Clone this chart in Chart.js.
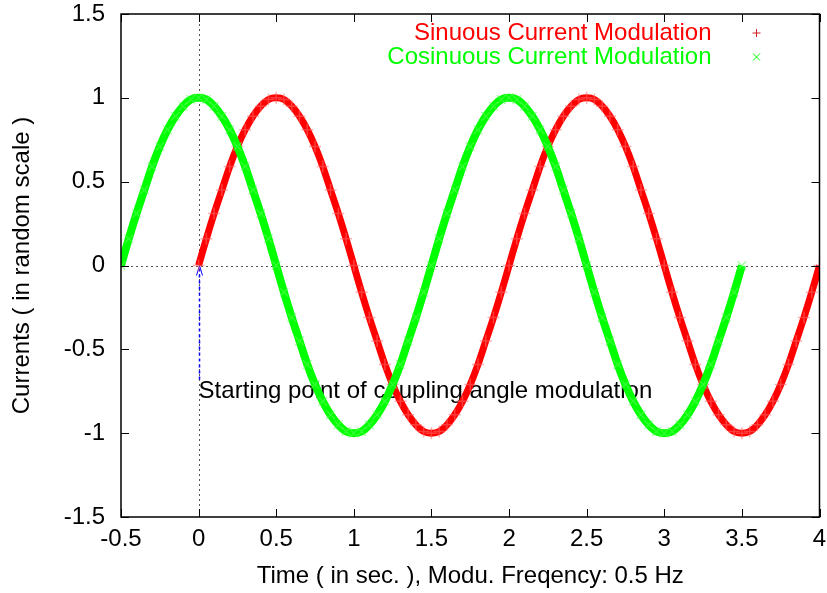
<!DOCTYPE html>
<html lang="en">
<head>
  <meta charset="UTF-8" />
  <title>Current Modulation</title>
  <script src="https://cdn.jsdelivr.net/npm/chart.js"></script>
  <style>
    html, body { margin: 0; padding: 0; background: #fff; }
    canvas { display: block; }
  </style>
</head>
<body>
  <canvas id="grafico" width="827" height="593"></canvas>

  <script>
    const sinTime = [
      0, 0.05, 0.1, 0.15, 0.2, 0.25, 0.3, 0.35, 0.4, 0.45,
      0.5, 0.55, 0.6, 0.65, 0.7, 0.75, 0.8, 0.85, 0.9, 0.95,
      1, 1.05, 1.1, 1.15, 1.2, 1.25, 1.3, 1.35, 1.4, 1.45,
      1.5, 1.55, 1.6, 1.65, 1.7, 1.75, 1.8, 1.85, 1.9, 1.95,
      2, 2.05, 2.1, 2.15, 2.2, 2.25, 2.3, 2.35, 2.4, 2.45,
      2.5, 2.55, 2.6, 2.65, 2.7, 2.75, 2.8, 2.85, 2.9, 2.95,
      3, 3.05, 3.1, 3.15, 3.2, 3.25, 3.3, 3.35, 3.4, 3.45,
      3.5, 3.55, 3.6, 3.65, 3.7, 3.75, 3.8, 3.85, 3.9, 3.95,
      4
    ];
    const sinValues = [
      0, 0.16, 0.31, 0.45, 0.59, 0.71, 0.81, 0.89, 0.95, 0.99,
      1, 0.99, 0.95, 0.89, 0.81, 0.71, 0.59, 0.45, 0.31, 0.16,
      0, -0.16, -0.31, -0.45, -0.59, -0.71, -0.81, -0.89, -0.95, -0.99,
      -1, -0.99, -0.95, -0.89, -0.81, -0.71, -0.59, -0.45, -0.31, -0.16,
      0, 0.16, 0.31, 0.45, 0.59, 0.71, 0.81, 0.89, 0.95, 0.99,
      1, 0.99, 0.95, 0.89, 0.81, 0.71, 0.59, 0.45, 0.31, 0.16,
      0, -0.16, -0.31, -0.45, -0.59, -0.71, -0.81, -0.89, -0.95, -0.99,
      -1, -0.99, -0.95, -0.89, -0.81, -0.71, -0.59, -0.45, -0.31, -0.16,
      0
    ];
    const cosTime = [
      -0.5, -0.45, -0.4, -0.35, -0.3, -0.25, -0.2, -0.15, -0.1, -0.05,
      0, 0.05, 0.1, 0.15, 0.2, 0.25, 0.3, 0.35, 0.4, 0.45,
      0.5, 0.55, 0.6, 0.65, 0.7, 0.75, 0.8, 0.85, 0.9, 0.95,
      1, 1.05, 1.1, 1.15, 1.2, 1.25, 1.3, 1.35, 1.4, 1.45,
      1.5, 1.55, 1.6, 1.65, 1.7, 1.75, 1.8, 1.85, 1.9, 1.95,
      2, 2.05, 2.1, 2.15, 2.2, 2.25, 2.3, 2.35, 2.4, 2.45,
      2.5, 2.55, 2.6, 2.65, 2.7, 2.75, 2.8, 2.85, 2.9, 2.95,
      3, 3.05, 3.1, 3.15, 3.2, 3.25, 3.3, 3.35, 3.4, 3.45,
      3.5
    ];
    const cosValues = [
      0, 0.16, 0.31, 0.45, 0.59, 0.71, 0.81, 0.89, 0.95, 0.99,
      1, 0.99, 0.95, 0.89, 0.81, 0.71, 0.59, 0.45, 0.31, 0.16,
      0, -0.16, -0.31, -0.45, -0.59, -0.71, -0.81, -0.89, -0.95, -0.99,
      -1, -0.99, -0.95, -0.89, -0.81, -0.71, -0.59, -0.45, -0.31, -0.16,
      0, 0.16, 0.31, 0.45, 0.59, 0.71, 0.81, 0.89, 0.95, 0.99,
      1, 0.99, 0.95, 0.89, 0.81, 0.71, 0.59, 0.45, 0.31, 0.16,
      0, -0.16, -0.31, -0.45, -0.59, -0.71, -0.81, -0.89, -0.95, -0.99,
      -1, -0.99, -0.95, -0.89, -0.81, -0.71, -0.59, -0.45, -0.31, -0.16,
      0
    ];
    const xTicks = [-0.5, 0, 0.5, 1, 1.5, 2, 2.5, 3, 3.5, 4];
    const yTicks = [-1.5, -1, -0.5, 0, 0.5, 1, 1.5];

    const startLabel = 'Starting point of coupling angle modulation';
    const startLabelPos = { x: 0, y: -0.75 };
    const arrowFrom = { x: 0, y: -0.68 };
    const arrowTo = { x: 0, y: 0 };

    const fuente = { family: "'Liberation Sans', Arial, sans-serif", size: 24 };

    function puntos(ts, vs) {
      return ts.map((t, i) => ({ x: t, y: vs[i] }));
    }

    function sinPadding(s) {
      s.paddingTop = 0; s.paddingBottom = 0; s.paddingLeft = 0; s.paddingRight = 0;
    }

    // gnuplot-like decorations: zero axes, frame, inner ticks, key, label, arrow
    const decoraciones = {
      id: 'decoraciones',
      beforeDatasetsDraw(chart) {
        const { ctx, chartArea: a, scales: { x, y } } = chart;
        ctx.save();
        ctx.strokeStyle = '#555';
        ctx.lineWidth = 1;
        ctx.setLineDash([2, 3]);
        const y0 = Math.round(y.getPixelForValue(0)) + 0.5;
        const x0 = Math.round(x.getPixelForValue(0)) + 0.5;
        ctx.beginPath();
        ctx.moveTo(a.left, y0); ctx.lineTo(a.right, y0);
        ctx.moveTo(x0, a.top); ctx.lineTo(x0, a.bottom);
        ctx.stroke();

        // arrow
        const ay1 = y.getPixelForValue(arrowFrom.y);
        const ay2 = y.getPixelForValue(arrowTo.y);
        ctx.strokeStyle = '#0000ff';
        ctx.lineWidth = 1.5;
        ctx.setLineDash([3, 3]);
        ctx.beginPath();
        ctx.moveTo(x0, ay1); ctx.lineTo(x0, ay2);
        ctx.stroke();
        ctx.setLineDash([]);
        ctx.lineWidth = 1;
        ctx.beginPath();
        ctx.moveTo(x0 - 3, ay2 + 10); ctx.lineTo(x0, ay2); ctx.lineTo(x0 + 3, ay2 + 10);
        ctx.stroke();

        // label
        ctx.fillStyle = '#000';
        ctx.font = fuente.size + 'px ' + fuente.family;
        ctx.textAlign = 'left';
        ctx.textBaseline = 'middle';
        ctx.fillText(startLabel, x.getPixelForValue(startLabelPos.x), y.getPixelForValue(startLabelPos.y));
        ctx.restore();
      },
      afterDatasetsDraw(chart) {
        const { ctx, chartArea: a, scales: { x, y } } = chart;
        ctx.save();
        ctx.strokeStyle = '#000';
        ctx.lineWidth = 1.5;
        ctx.strokeRect(a.left, a.top, a.right - a.left, a.bottom - a.top);
        ctx.lineWidth = 1;
        ctx.beginPath();
        xTicks.forEach(v => {
          const px = Math.round(x.getPixelForValue(v)) + 0.5;
          ctx.moveTo(px, a.bottom); ctx.lineTo(px, a.bottom - 8);
          ctx.moveTo(px, a.top); ctx.lineTo(px, a.top + 8);
        });
        yTicks.forEach(v => {
          const py = Math.round(y.getPixelForValue(v)) + 0.5;
          ctx.moveTo(a.left, py); ctx.lineTo(a.left + 8, py);
          ctx.moveTo(a.right, py); ctx.lineTo(a.right - 8, py);
        });
        ctx.stroke();

        // key (text then sample, gnuplot style)
        ctx.font = fuente.size + 'px ' + fuente.family;
        ctx.textAlign = 'right';
        ctx.textBaseline = 'middle';
        const tx = a.right - 108;
        const mx = a.right - 63;
        const keyRows = [
          { ds: chart.data.datasets[1], y: a.top + 19, marca: '+', color: '#d02020' },
          { ds: chart.data.datasets[0], y: a.top + 43, marca: 'x', color: '#00ff00' }
        ];
        keyRows.forEach(r => {
          ctx.fillStyle = r.ds.borderColor;
          ctx.fillText(r.ds.label, tx, r.y);
          ctx.strokeStyle = r.color;
          ctx.lineWidth = 1;
          ctx.beginPath();
          if (r.marca === '+') {
            ctx.moveTo(mx - 4, r.y); ctx.lineTo(mx + 4, r.y);
            ctx.moveTo(mx, r.y - 4); ctx.lineTo(mx, r.y + 4);
          } else {
            ctx.moveTo(mx - 3.5, r.y - 3.5); ctx.lineTo(mx + 3.5, r.y + 3.5);
            ctx.moveTo(mx - 3.5, r.y + 3.5); ctx.lineTo(mx + 3.5, r.y - 3.5);
          }
          ctx.stroke();
        });
        ctx.restore();
      }
    };

    new Chart(document.getElementById('grafico').getContext('2d'), {
      type: 'scatter',
      data: {
        datasets: [
          {
            label: 'Cosinuous Current Modulation',
            data: puntos(cosTime, cosValues),
            showLine: true,
            tension: 0.3,
            borderColor: '#00ff00',
            borderWidth: 8,
            pointStyle: 'crossRot',
            pointRadius: 6,
            pointBorderColor: 'rgba(90,255,90,0.55)',
            pointBorderWidth: 1.5,
            pointBackgroundColor: 'transparent'
          },
          {
            label: 'Sinuous Current Modulation',
            data: puntos(sinTime, sinValues),
            showLine: true,
            tension: 0.3,
            borderColor: '#ff0000',
            borderWidth: 7,
            pointStyle: 'cross',
            pointRadius: 6,
            pointBorderColor: 'rgba(255,110,110,0.55)',
            pointBorderWidth: 1.5,
            pointBackgroundColor: 'transparent'
          }
        ]
      },
      options: {
        responsive: false,
        animation: false,
        layout: { padding: { top: 14, right: 5, left: 0, bottom: 0 } },
        plugins: {
          legend: { display: false },
          tooltip: { enabled: false }
        },
        scales: {
          x: {
            type: 'linear',
            min: -0.5,
            max: 4,
            afterBuildTicks: s => { s.ticks = xTicks.map(v => ({ value: v })); },
            ticks: { color: '#000', font: fuente, padding: 8, maxRotation: 0, autoSkip: false, callback: v => String(v) },
            grid: { display: false, drawTicks: false },
            border: { display: false },
            title: {
              display: true,
              text: 'Time ( in sec. ), Modu. Freqency: 0.5 Hz',
              color: '#000',
              font: fuente,
              padding: { top: 0, bottom: 2 }
            },
            afterFit: s => { s.height = 76; sinPadding(s); }
          },
          y: {
            type: 'linear',
            min: -1.5,
            max: 1.5,
            afterBuildTicks: s => { s.ticks = yTicks.map(v => ({ value: v })); },
            ticks: { color: '#000', font: fuente, padding: 16, callback: v => String(v) },
            grid: { display: false, drawTicks: false },
            border: { display: false },
            title: {
              display: true,
              text: 'Currents ( in random scale )',
              color: '#000',
              font: fuente,
              padding: { top: 8, bottom: 0 }
            },
            afterFit: s => { s.width = 121; sinPadding(s); }
          }
        }
      },
      plugins: [decoraciones]
    });
  </script>
</body>
</html>
